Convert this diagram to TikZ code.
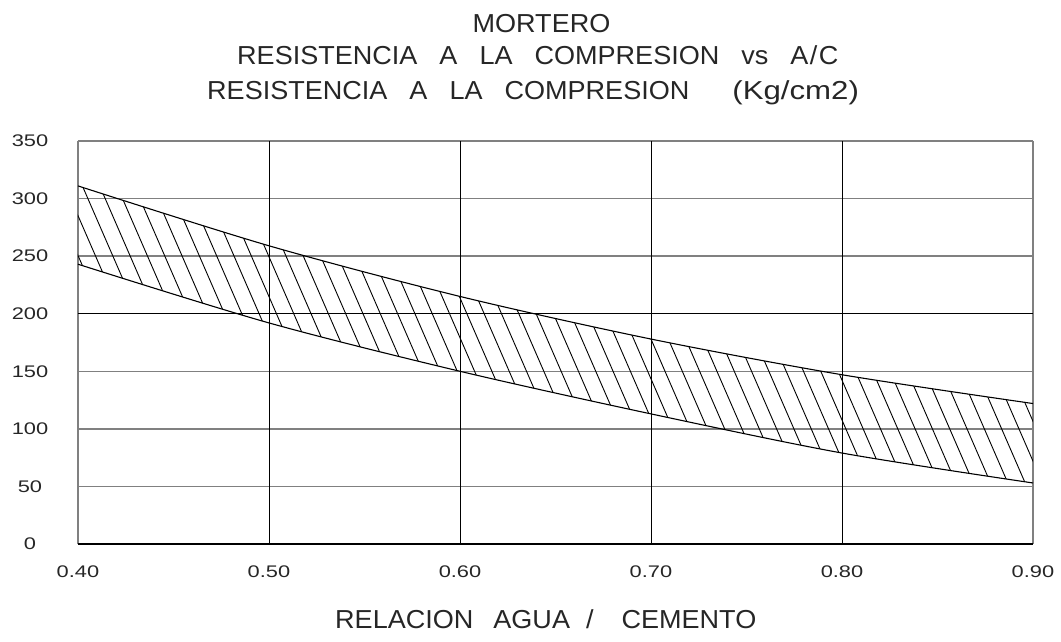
\documentclass[tikz,border=0pt]{standalone}
\usepackage{fontspec}
\setmainfont{Liberation Sans}
\newfontfamily\tickfont[FakeStretch=1.3]{Liberation Sans}
\newfontfamily\titlefont[FakeStretch=1.04]{Liberation Sans}
\newfontfamily\unitfont[FakeStretch=1.2]{Liberation Sans}
\newcommand{\wsp}{\hspace{22pt}}

\tikzset{
  gridgray/.style={black!50, line width=1.5pt},
  gridblack/.style={black, line width=1pt},
  band/.style={black, line width=1.1pt},
  hatch/.style={black, line width=0.9pt},
  ticklab/.style={font=\tickfont\fontsize{16.8}{18}\selectfont, inner sep=0pt, text=black!85},
  titlelab/.style={font=\titlefont\fontsize{26}{30}\selectfont, inner sep=0pt, text=black!85},
}

\begin{document}
\begin{tikzpicture}[x=1pt, y=1pt]
    \useasboundingbox (0,0) rectangle (1061,641);

    % Titulos
    \node[titlelab, anchor=base] (titulo) at (541.5,608) {MORTERO};
    \node[titlelab, anchor=base west] (subtitulo) at (237,576)
        {RESISTENCIA\wsp A\wsp LA\wsp COMPRESION\wsp vs\wsp A\kern1.5pt/\kern1.5pt C};
    \node[titlelab, anchor=base west] (unidades) at (207,541)
        {RESISTENCIA\wsp A\wsp LA\wsp COMPRESION\hspace{43pt}{\unitfont(Kg/cm2)}};
    \node[titlelab, anchor=base west] (ejex) at (335,13)
        {RELACION\hspace{20pt}AGUA\hspace{16pt}/\hspace{28pt}CEMENTO};

    \begin{scope}[shift={(-686pt,97pt)}, x=1910pt, y=1.1514pt]
        % Cuadricula
        \foreach \v in {50,100,150,250,300,350}
            \draw[gridgray] (0.40,\v) -- (0.90,\v);
        \draw[gridgray] (0.40,0) -- (0.40,350);
        \draw[gridgray] (0.90,0) -- (0.90,350);
        \foreach \x in {0.50,0.60,0.70,0.80}
            \draw[gridblack] (\x,0) -- (\x,350);
        \draw[gridblack] (0.40,200) -- (0.90,200);
        \draw[black, line width=1.6pt] (0.40,0) -- (0.90,0);

        % Rayado entre curvas
        \begin{scope}
            \clip plot[smooth] coordinates {(0.40,311) (0.50,259) (0.60,215) (0.70,178) (0.80,147) (0.90,122)}
                -- plot[smooth] coordinates {(0.90,53) (0.80,79) (0.70,113) (0.60,150) (0.50,192) (0.40,243)} -- cycle;
            \foreach \k in {-37,...,26}
                \draw[hatch] ({0.70+0.00906*\k-0.05},368.8) -- ({0.70+0.00906*\k+0.05},-12.8);
        \end{scope}

        % Curvas limite
        \draw[band] plot[smooth] coordinates {(0.40,311) (0.50,259) (0.60,215) (0.70,178) (0.80,147) (0.90,122)};
        \draw[band] plot[smooth] coordinates {(0.40,243) (0.50,192) (0.60,150) (0.70,113) (0.80,79) (0.90,53)};

        % Etiquetas de los ejes
        \foreach \v [count=\i] in {0,50,...,350}
            \node[ticklab, xshift=-48pt] (yt\i) at (0.40,\v) {\v};
        \foreach \x [count=\i] in {0.40,0.50,0.60,0.70,0.80,0.90}
            \node[ticklab, yshift=-28pt] (xt\i) at (\x,0) {\x};
    \end{scope}
\end{tikzpicture}
\end{document}
